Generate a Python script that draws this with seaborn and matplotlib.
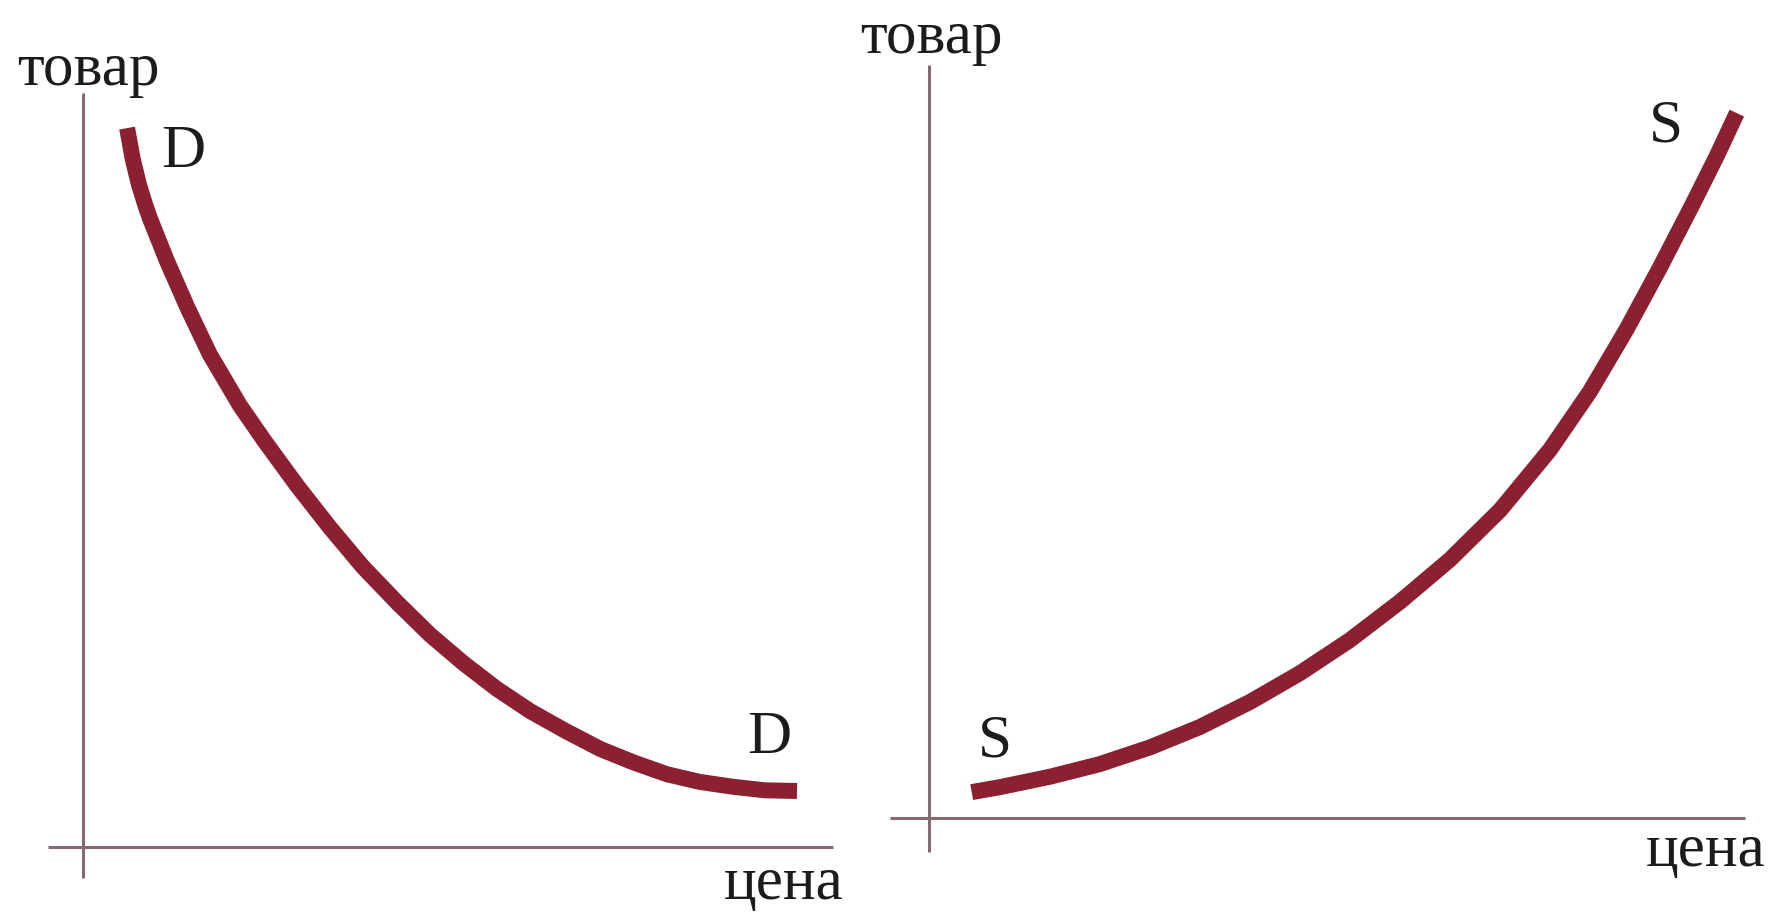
import numpy as np
import pandas as pd
import seaborn as sns
import matplotlib.pyplot as plt

# demand curve D (price -> goods)
d_price = [0.63, 0.71, 0.80, 0.89, 0.96, 1.20, 1.49, 1.81, 2.24, 2.60, 3.06, 3.53, 4.00,
           4.49, 4.96, 5.43, 5.91, 6.39, 6.89, 7.39, 7.86, 8.34, 8.81, 9.29, 9.74, 10.20]
d_goods = [10.27, 9.83, 9.46, 9.17, 8.97, 8.37, 7.71, 7.04, 6.31, 5.79, 5.16, 4.56, 4.00,
           3.49, 3.03, 2.63, 2.26, 1.94, 1.66, 1.40, 1.21, 1.04, 0.93, 0.86, 0.81, 0.80]

# supply curve S
s_price = [0.61, 1.01, 1.73, 2.44, 3.16, 3.87, 4.59, 5.30, 6.01, 6.73, 7.44, 8.16,
           8.87, 9.44, 9.97, 10.44, 10.91, 11.26, 11.54]
s_goods = [0.37, 0.44, 0.59, 0.77, 1.01, 1.30, 1.66, 2.07, 2.54, 3.09, 3.69, 4.40,
           5.26, 6.09, 6.99, 7.86, 8.77, 9.47, 10.07]

# extent of the hand drawn axes
left_xaxis = [-0.50, 10.71]
left_yaxis = [-0.44, 10.77]
right_xaxis = [-0.56, 11.66]
right_yaxis = [-0.49, 10.76]

y_label = "товар"
x_label = "цена"

sns.set_theme(style="white")
plt.rcParams['font.family'] = ['Liberation Serif', 'DejaVu Serif']

curve_color = "#8b2030"
axis_color = "#866a70"
text_color = "#1c1c1c"

W, H = 1777, 913
fig = plt.figure(figsize=(W / 100, H / 100), dpi=100)
fig.patch.set_facecolor("white")

# two panels, 70 px per data unit, origin where the axes cross
ax1 = fig.add_axes([0, 0, 888 / W, 1])
ax1.set_xlim(-83 / 70, (888 - 83) / 70)
ax1.set_ylim((847 - 913) / 70, 847 / 70)

ax2 = fig.add_axes([888 / W, 0, (W - 888) / W, 1])
ax2.set_xlim((888 - 929) / 70, (1777 - 929) / 70)
ax2.set_ylim((818 - 913) / 70, 818 / 70)

# axes lines
for ax, xa, ya in ((ax1, left_xaxis, left_yaxis), (ax2, right_xaxis, right_yaxis)):
    ax.plot(xa, [0, 0], color=axis_color, lw=2.2, solid_capstyle="butt")
    ax.plot([0, 0], ya, color=axis_color, lw=2.2, solid_capstyle="butt")

dd = pd.DataFrame({"price": d_price, "goods": d_goods})
ss = pd.DataFrame({"price": s_price, "goods": s_goods})
sns.lineplot(data=dd, x="price", y="goods", ax=ax1, color=curve_color, lw=11.5,
             sort=False, solid_capstyle="butt", solid_joinstyle="round")
sns.lineplot(data=ss, x="price", y="goods", ax=ax2, color=curve_color, lw=11.5,
             sort=False, solid_capstyle="butt", solid_joinstyle="round")
ax1.axis("off")
ax2.axis("off")

fs = 44
kw = dict(fontsize=fs, color=text_color)

ax1.text(0.07, 10.89, y_label, ha="center", va="baseline", **kw)
ax1.text(1.44, 9.93, "D", ha="center", va="center", **kw)
ax1.text(9.80, 1.56, "D", ha="center", va="center", **kw)
ax1.text(10.01, -0.74, x_label, ha="center", va="baseline", **kw)

ax2.text(0.04, 10.93, y_label, ha="center", va="baseline", **kw)
ax2.text(0.94, 1.09, "S", ha="center", va="center", **kw)
ax2.text(10.53, 9.87, "S", ha="center", va="center", **kw)
ax2.text(11.09, -0.68, x_label, ha="center", va="baseline", **kw)

fig.savefig("out.png", dpi=100, facecolor="white")
